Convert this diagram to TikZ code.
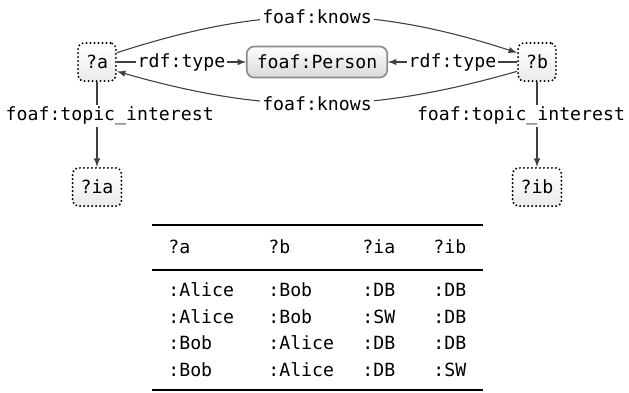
\documentclass[tikz,border=0pt]{standalone}
\usepackage{fontspec}
\setmonofont{DejaVu Sans Mono}
\usetikzlibrary{arrows}
\usetikzlibrary{calc}

\begin{document}
\begin{tikzpicture}[x=0.55pt,y=-0.55pt,font=\ttfamily,
  var/.style={draw=black,dash pattern=on 0pt off 2.2pt,line cap=round,line width=1.2pt,rounded corners=3pt,top color=white,bottom color=black!8,inner xsep=4.4pt,minimum height=21pt},
  cls/.style={draw=black!45,line width=0.9pt,rounded corners=4pt,top color=white,bottom color=black!15,inner xsep=5.5pt,minimum height=17pt},
  lbl/.style={fill=white,text=black,inner sep=1pt},
  rel/.style={black!75,line width=0.6pt,->,>=latex},
  cell/.style={anchor=west,inner sep=0pt}]
\useasboundingbox (0,0) rectangle (629,392);
% the query pattern
\node[var] (a) at (97,62) {?a};
\node[cls] (p) at (317,62) {foaf:Person};
\node[var] (b) at (537,62) {?b};
\node[var] (ia) at (97,187) {?ia};
\node[var] (ib) at (537,187) {?ib};
\draw[rel] (a) -- node[lbl]{rdf:type} (p);
\draw[rel] (b) -- node[lbl]{rdf:type} (p);
\draw[rel] (a.25) to[bend left=18] node[lbl]{foaf:knows} (b.155);
\draw[rel] (b.-155) to[bend left=16] node[lbl]{foaf:knows} (a.-25);
\draw[rel] (a) -- node[lbl,pos=0.4,xshift=7pt]{foaf:topic\_interest} (ia);
\draw[rel] (b) -- node[lbl,pos=0.4,xshift=-8.8pt]{foaf:topic\_interest} (ib);
% the results
\draw[line width=1.6pt] (152,225) -- (483,225);
\draw[line width=1.1pt] (152,270) -- (483,270);
\draw[line width=1.6pt] (152,390) -- (483,390);
\foreach \x/\t [count=\i] in {168/?a,268/?b,362/?ia,433/?ib}
  \node[cell] (h\i) at (\x,247) {\t};
\foreach \y/\ca/\cb/\cc/\cd [count=\r] in {290/:Alice/:Bob/:DB/:DB, 317/:Alice/:Bob/:SW/:DB, 343/:Bob/:Alice/:DB/:DB, 370/:Bob/:Alice/:DB/:SW} {
  \node[cell] (r\r a) at (168,\y) {\ca};
  \node[cell] (r\r b) at (268,\y) {\cb};
  \node[cell] (r\r c) at (362,\y) {\cc};
  \node[cell] (r\r d) at (433,\y) {\cd};
}
\end{tikzpicture}
\end{document}
